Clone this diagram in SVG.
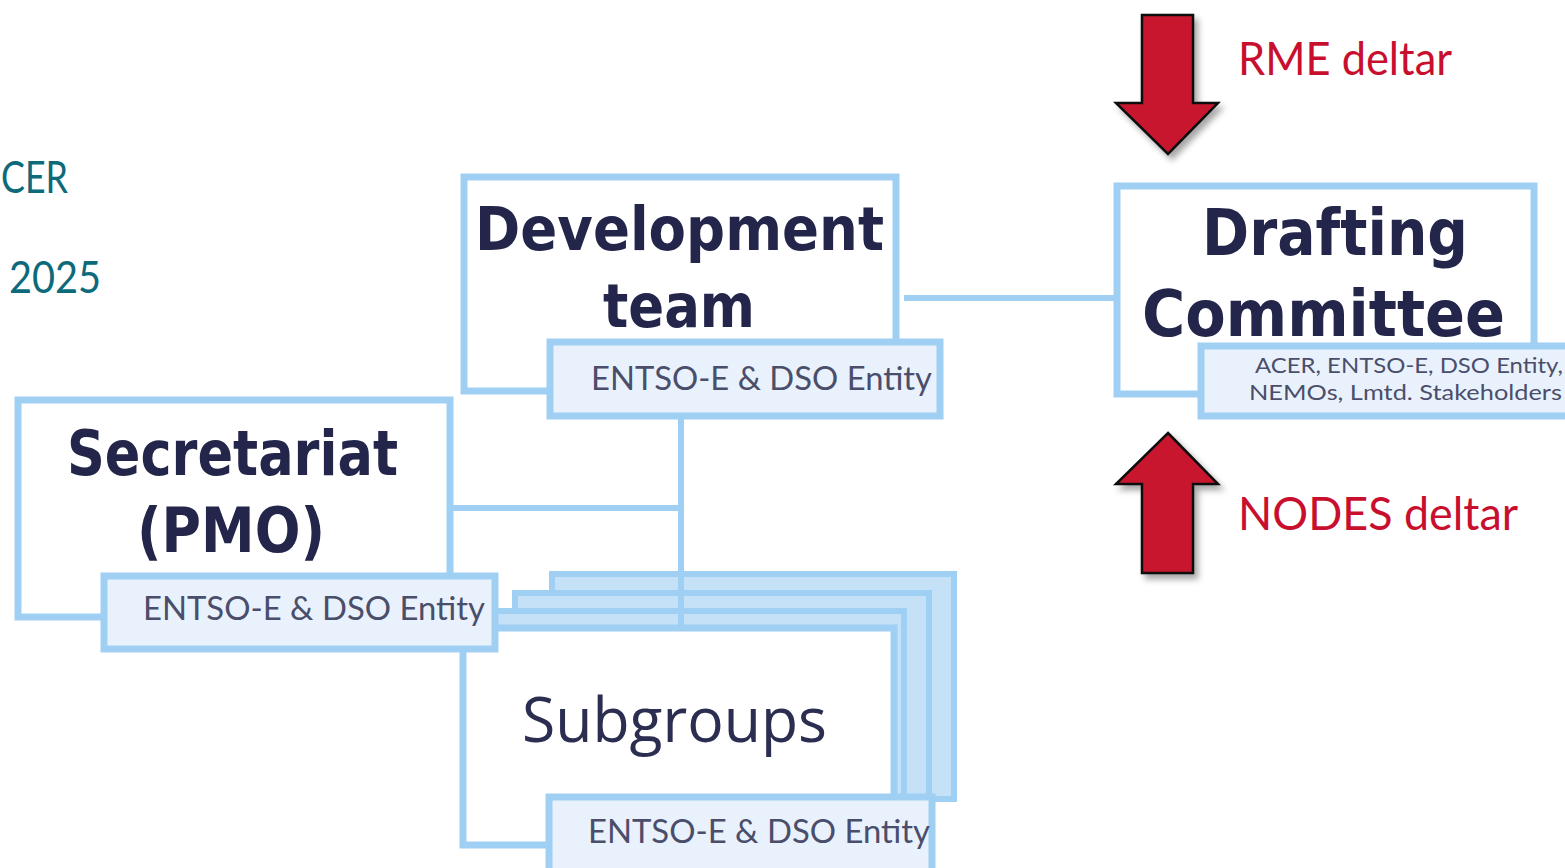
<svg xmlns="http://www.w3.org/2000/svg" width="1565" height="868" viewBox="0 0 1565 868">
<style>
.box{fill:#ffffff;stroke:#9fd0f4;stroke-width:7}
.lbl{fill:#e9f2fc;stroke:#9fd0f4;stroke-width:7}
.back{fill:#c4e1f8;stroke:#9fd0f4;stroke-width:6}
.con{stroke:#9fd0f4;stroke-width:6;fill:none}
.title{font-family:"DejaVu Sans",Verdana,sans-serif;font-weight:bold;fill:#23264a}
.sub{font-family:"Lato","DejaVu Sans",sans-serif;fill:#4b4e6b}
.red{font-family:"Lato","DejaVu Sans",sans-serif;fill:#c8102e;font-size:46px}
.teal{font-family:"Lato","DejaVu Sans",sans-serif;fill:#0d6a7a;font-size:44px}
.arrow{fill:#c8142f;stroke:#111;stroke-width:2.5;stroke-linejoin:miter}
</style>
<defs>
<filter id="sh" x="-30%" y="-30%" width="160%" height="160%">
<feDropShadow dx="4" dy="5" stdDeviation="3" flood-color="#000" flood-opacity="0.35"/>
</filter>
</defs>

<text class="teal" x="1" y="193" textLength="67" lengthAdjust="spacingAndGlyphs">CER</text>
<text class="teal" x="9" y="293" textLength="92" lengthAdjust="spacingAndGlyphs">2025</text>

<g id="subgroups-stack">
<rect class="back" x="552" y="574" width="402" height="225"/>
<rect class="back" x="515" y="593" width="414" height="206"/>
<rect class="back" x="466" y="611" width="438" height="188"/>
</g>

<g id="connectors">
<line class="con" x1="904" y1="298" x2="1114" y2="298"/>
<line class="con" x1="681" y1="416" x2="681" y2="630"/>
<line class="con" x1="452" y1="508" x2="684" y2="508"/>
</g>

<g id="subgroups">
<rect class="box" x="463" y="628" width="431" height="217"/>
<text class="sub" x="522" y="742" font-size="62" textLength="305" lengthAdjust="spacingAndGlyphs" style="font-family:'Open Sans','DejaVu Sans',sans-serif;fill:#2b2e50">Subgroups</text>
<rect class="lbl" x="549" y="797" width="383" height="80"/>
<text class="sub" x="588" y="843" font-size="32" textLength="342" lengthAdjust="spacingAndGlyphs">ENTSO-E &amp; DSO Entity</text>
</g>

<g id="development-team">
<rect class="box" x="464" y="177" width="432" height="214"/>
<text class="title" x="475" y="250" font-size="60" textLength="409" lengthAdjust="spacingAndGlyphs">Development</text>
<text class="title" x="603" y="327" font-size="60" textLength="152" lengthAdjust="spacingAndGlyphs">team</text>
<rect class="lbl" x="550" y="342" width="390" height="74"/>
<text class="sub" x="591" y="390" font-size="32" textLength="341" lengthAdjust="spacingAndGlyphs">ENTSO-E &amp; DSO Entity</text>
</g>

<g id="secretariat">
<rect class="box" x="18" y="400" width="432" height="217"/>
<text class="title" x="67" y="475" font-size="62" textLength="331" lengthAdjust="spacingAndGlyphs">Secretariat</text>
<text class="title" x="137" y="552" font-size="62" textLength="188" lengthAdjust="spacingAndGlyphs">(PMO)</text>
<rect class="lbl" x="104" y="576" width="391" height="73"/>
<text class="sub" x="143" y="620" font-size="32" textLength="342" lengthAdjust="spacingAndGlyphs">ENTSO-E &amp; DSO Entity</text>
</g>

<g id="drafting-committee">
<rect class="box" x="1117" y="186" width="417" height="208"/>
<text class="title" x="1202" y="255" font-size="64" textLength="266" lengthAdjust="spacingAndGlyphs">Drafting</text>
<text class="title" x="1142" y="336" font-size="64" textLength="363" lengthAdjust="spacingAndGlyphs">Committee</text>
<rect class="lbl" x="1201" y="346" width="380" height="70"/>
<text class="sub" x="1255" y="373" font-size="22" textLength="308" lengthAdjust="spacingAndGlyphs">ACER, ENTSO-E, DSO Entity,</text>
<text class="sub" x="1249" y="400" font-size="22" textLength="313" lengthAdjust="spacingAndGlyphs">NEMOs, Lmtd. Stakeholders</text>
</g>

<g id="rme-arrow">
<polygon class="arrow" filter="url(#sh)" points="1142,15 1193,15 1193,103 1218,103 1168,154 1116,103 1142,103"/>
<text class="red" x="1238" y="75" textLength="214" lengthAdjust="spacingAndGlyphs">RME deltar</text>
</g>

<g id="nodes-arrow">
<polygon class="arrow" filter="url(#sh)" points="1168,433 1218,484 1193,484 1193,573 1142,573 1142,484 1116,484"/>
<text class="red" x="1238" y="530" textLength="280" lengthAdjust="spacingAndGlyphs">NODES deltar</text>
</g>
</svg>
